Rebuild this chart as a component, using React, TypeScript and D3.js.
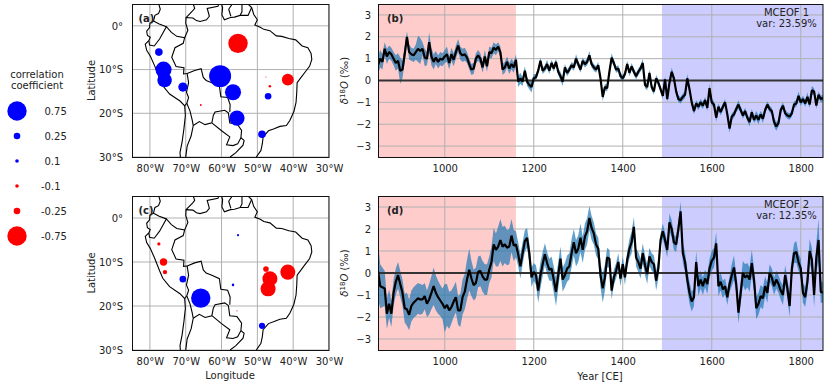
import React, { useEffect, useRef } from "react";
import * as d3 from "d3";

const FONT = "DejaVu Sans";

// values every 5 years, 850 to 1850 CE
const years = d3.range(850, 1855, 5);

const mceof1 = [
  0.7, 1.0, 0.85, 1.45, 1.1, 1.3, 1.2, 1.0, 0.8, 0.9,
  0.45, 0.5, 1.2, 2.0, 1.3, 1.2, 1.15, 1.3, 1.45, 1.35,
  1.45, 1.05, 1.0, 1.75, 1.1, 0.85, 1.05, 0.85, 1.0, 0.95,
  1.1, 1.2, 0.8, 1.2, 0.95, 1.3, 1.6, 1.25, 1.15, 1.2,
  1.05, 0.75, 0.5, 0.55, 1.0, 1.15, 1.0, 0.6, 1.1, 0.65,
  1.3, 1.25, 1.5, 1.4, 1.55, 1.3, 0.5, 0.6, 0.85, 0.55,
  0.75, 0.6, 0.95, -0.05, 0.1, -0.05, 0.45, -0.05, -0.2, -0.3,
  0.1, 0.15, 0.45, 0.9, 0.45, 0.55, 0.75, 0.45, 0.8, 0.55,
  0.85, 0.4, 0.2, -0.05, 0.6, 0.35, 0.5, 0.7, 0.6, 1.0,
  0.75, 0.5, 0.9, 0.75, 0.85, 1.15, 0.75, 0.6, 0.5, 0.7,
  0.1, -0.75, -0.3, -0.35, 0.4, 1.05, 0.8, 0.5, 0.55, 0.2,
  0.1, 0.3, 0.75, 0.35, 0.65, 0.4, 0.2, 0.4, 0.55, 0.8,
  -0.2, -0.3, 0.35, -0.3, -0.5, 0.1, -0.1, -0.4, -0.7, 0.05,
  -0.85, -0.1, 0.4, 0.1, -0.5, -0.85, -0.9, -0.75, -0.65, 0.1,
  -0.4, -1, -1.4, -1.05, -1.2, -1, -1.15, -0.9, -1.25, -0.35,
  -1, -1.1, -1.7, -1.2, -1.45, -1.2, -1, -1.55, -2.2, -1.65,
  -1.55, -1.3, -1.1, -1.35, -1.6, -1.4, -1.7, -1.9, -1.45, -1.8,
  -1.6, -1.8, -1.55, -1.75, -1.35, -1.1, -1.3, -1.4, -1.9, -2.1,
  -1.95, -1.35, -1.15, -1.5, -1.6, -1.65, -1.5, -1.1, -1.05, -0.7,
  -1, -0.85, -1.05, -0.75, -1.1, -0.45, -0.5, -1.15, -0.65, -0.85,
  -0.8,
];

const spread1 = [
  0.4, 0.4, 0.35, 0.3, 0.35, 0.3, 0.3, 0.3, 0.35, 0.35,
  0.6, 0.4, 0.35, 0.25, 0.35, 0.3, 0.3, 0.35, 0.6, 0.6,
  0.3, 0.4, 0.3, 0.45, 0.4, 0.35, 0.3, 0.3, 0.3, 0.3,
  0.3, 0.35, 0.3, 0.3, 0.3, 0.3, 0.3, 0.3, 0.3, 0.3,
  0.25, 0.25, 0.25, 0.25, 0.25, 0.25, 0.25, 0.25, 0.3, 0.25,
  0.25, 0.25, 0.25, 0.25, 0.2, 0.25, 0.25, 0.25, 0.25, 0.25,
  0.25, 0.25, 0.25, 0.25, 0.25, 0.2, 0.2, 0.2, 0.2, 0.25,
  0.2, 0.15, 0.15, 0.15, 0.15, 0.15, 0.2, 0.15, 0.15, 0.15,
  0.15, 0.15, 0.2, 0.2, 0.15, 0.15, 0.15, 0.15, 0.15, 0.2,
  0.15, 0.15, 0.15, 0.15, 0.15, 0.2, 0.15, 0.15, 0.15, 0.15,
  0.15, 0.2, 0.15, 0.15, 0.15, 0.2, 0.15, 0.15, 0.15, 0.15,
  0.15, 0.15, 0.15, 0.15, 0.15, 0.15, 0.15, 0.15, 0.15, 0.2,
  0.15, 0.15, 0.15, 0.15, 0.15, 0.15, 0.15, 0.15, 0.15, 0.15,
  0.15, 0.15, 0.2, 0.15, 0.15, 0.15, 0.15, 0.15, 0.15, 0.2,
  0.15, 0.15, 0.15, 0.15, 0.15, 0.15, 0.15, 0.15, 0.15, 0.2,
  0.15, 0.15, 0.2, 0.15, 0.15, 0.15, 0.15, 0.15, 0.2, 0.15,
  0.15, 0.15, 0.2, 0.15, 0.15, 0.15, 0.15, 0.2, 0.15, 0.15,
  0.2, 0.2, 0.15, 0.2, 0.15, 0.15, 0.15, 0.15, 0.2, 0.2,
  0.15, 0.15, 0.15, 0.15, 0.15, 0.15, 0.15, 0.15, 0.15, 0.2,
  0.15, 0.15, 0.15, 0.2, 0.15, 0.2, 0.15, 0.15, 0.15, 0.15,
  0.15,
];

const mceof2 = [
  0.1, -0.6, -0.65, -0.7, -1.85, -1.4, -1.85, -0.9, -0.4, -0.1,
  -0.5, -0.9, -1.6, -1.65, -1.9, -1.5, -1.35, -1.25, -1.15, -1.2,
  -1.2, -1.05, -1.4, -1.2, -0.9, -0.6, -0.9, -1.1, -1.25, -1.4,
  -1.6, -1.45, -1.7, -1.55, -1.3, -1.1, -1.7, -1.7, -1.1, -0.85,
  -0.3, 0.15, -0.25, -0.55, -0.45, 0.05, 0.1, -0.15, -0.3, -0.3,
  0.15, 0.5, 1.3, 1.05, 1.2, 1.5, 1.2, 1.3, 1.15, 1.2,
  1.7, 1.25, 1.3, 0.85, 0.3, 0.9, 1.45, 1.6, 0.9, -0.2,
  0.05, -0.1, -0.8, -0.1, 0.4, 0.85, 0.45, 0.15, 0.2, -0.3,
  -0.85, -0.1, 0.65, -0.3, -0.1, 0.2, 0.3, 0.9, 1.4, 0.9,
  1.1, 1.6, 1.05, 1.65, 1.9, 2.5, 2.05, 1.8, 1.3, 1.1,
  -0.1, -0.7, -0.2, 0.7, 0.65, -0.8, -0.2, 0.1, 0.5, -0.25,
  0.4, -0.2, 0.6, 1.1, 1.4, 2.1, 0.7, 0.5, 0.2, 0.9,
  0.35, -0.05, 0.75, 0.5, 0.4, -0.35, 0.2, 1.5, 1.9, 1.5,
  1.05, 2.3, 2, 1.4, 1.3, 2, 2.8, 0.9, 0.5, -0.3,
  -0.9, -1.3, -1.1, 0.5, -0.6, -0.3, -0.6, -0.25, -0.5, 0.2,
  0.55, 0.7, 1.35, -0.6, -0.4, -0.75, -0.6, -1.1, -0.5, -0.1,
  0.25, -0.5, -1.8, -0.9, 0, -0.2, -0.1, -0.3, 0.45, -0.3,
  -1.6, -1.4, -1.05, -1.15, -0.6, -0.9, 0, -0.2, -0.6, -0.3,
  -0.5, -0.8, -1, -0.1, -0.7, -1.5, 0.2, 0.9, 0.95, 0.5,
  0.2, -0.9, -1.1, -0.4, 1, 0.6, -1, 0.7, 1.5, -0.85,
  -0.9,
];

const spread2 = [
  1.3, 1, 0.9, 0.8, 0.7, 0.65, 0.6, 0.6, 0.6, 0.6,
  0.6, 0.6, 0.65, 0.75, 0.7, 0.7, 0.7, 0.7, 0.7, 0.7,
  0.65, 0.6, 0.6, 0.7, 0.75, 0.85, 0.8, 0.75, 0.7, 0.7,
  1.1, 0.95, 0.85, 0.75, 0.7, 0.7, 0.65, 0.75, 0.8, 0.8,
  0.9, 0.95, 0.8, 0.7, 0.7, 0.7, 0.7, 0.7, 0.7, 0.7,
  0.6, 0.7, 0.75, 0.75, 0.9, 0.95, 0.9, 0.85, 0.8, 0.8,
  0.75, 0.7, 0.6, 0.55, 0.55, 0.5, 0.5, 0.45, 0.45, 0.45,
  0.4, 0.45, 0.55, 0.6, 0.55, 0.5, 0.5, 0.5, 0.55, 0.6,
  0.65, 0.6, 0.55, 0.55, 0.55, 0.6, 0.6, 0.65, 0.6, 0.6,
  0.6, 0.65, 0.6, 0.6, 0.6, 0.55, 0.55, 0.5, 0.5, 0.5,
  0.55, 0.65, 0.6, 0.45, 0.4, 0.4, 0.35, 0.35, 0.4, 0.35,
  0.35, 0.35, 0.35, 0.45, 0.5, 0.45, 0.4, 0.45, 0.45, 0.45,
  0.45, 0.45, 0.4, 0.4, 0.4, 0.45, 0.45, 0.3, 0.35, 0.35,
  0.35, 0.4, 0.4, 0.35, 0.35, 0.35, 0.45, 0.45, 0.45, 0.45,
  0.5, 0.45, 0.4, 0.5, 0.45, 0.4, 0.4, 0.4, 0.45, 0.45,
  0.45, 0.45, 0.5, 0.45, 0.4, 0.4, 0.35, 0.35, 0.35, 0.5,
  0.55, 0.4, 0.5, 0.5, 0.55, 0.6, 0.55, 0.55, 0.6, 0.5,
  0.5, 0.5, 0.5, 0.5, 0.45, 0.45, 0.4, 0.4, 0.4, 0.4,
  0.4, 0.4, 0.45, 0.45, 0.45, 0.5, 0.45, 0.45, 0.5, 0.4,
  0.45, 0.45, 0.45, 0.45, 0.55, 0.55, 0.55, 0.65, 0.95, 0.5,
  0.45,
];

// [lon, lat, correlation]
const sitesA = [
  [-77.5, -6, 0.29], [-76.2, -10, 0.62], [-75.9, -12.4, 0.56], [-70.8, -14, 0.35],
  [-60.4, -11.5, 0.85], [-56.8, -15.2, 0.62], [-55.7, -21.1, 0.59], [-48.7, -24.8, 0.29],
  [-47, -16.1, 0.25], [-55.4, -4, -0.75], [-41.5, -12.3, -0.46], [-46.5, -13.8, -0.07],
  [-47.6, -11.7, -0.03], [-65.8, -18.1, -0.05],
];
const sitesC = [
  [-65.8, -18.2, 0.75], [-70.8, -13.9, 0.25], [-48.7, -24.5, 0.23], [-55.4, -3.9, 0.06],
  [-56.8, -15.2, 0.07], [-77.5, -5.9, -0.09], [-76.2, -10, -0.28], [-75.8, -12.3, -0.14],
  [-41.5, -12.3, -0.58], [-47.6, -11.6, -0.2], [-46.5, -13.8, -0.58], [-47, -16.1, -0.58],
  [-55.7, -21.1, -0.03],
];

const legendValues = [0.75, 0.25, 0.1, -0.1, -0.25, -0.75];

// coast and borders as lon/lat polylines
const coastPacific = [
  [-77.5, 4.9], [-77.1, 3.8], [-77.6, 2.8], [-78.6, 2.4], [-79, 1.1], [-80, 0.6], [-80.1, -0.4], [-80.9, -1.2],
  [-80.7, -2.2], [-79.9, -2.6], [-80.3, -3.4], [-81.3, -4.2], [-80.9, -5.6], [-79.9, -6.9], [-78.7, -9.1],
  [-77.3, -12], [-76.4, -13.7], [-74.5, -15.6], [-71.6, -17.2], [-70.3, -18.3], [-70.1, -20.5], [-70.5, -23.5],
  [-71, -26.5], [-71.6, -29], [-71.5, -30],
];
const coastAtlantic = [
  [-52.6, 5], [-51.6, 4.2], [-51, 2.6], [-50, 1.4], [-50.7, 0.2], [-49.2, -0.3], [-48.2, -0.8], [-46.5, -1.1],
  [-44.7, -2.3], [-43.2, -2.4], [-41.2, -2.9], [-39.3, -3.2], [-37.5, -4.6], [-35.9, -5], [-35, -6.3],
  [-34.8, -7.7], [-35.4, -9.2], [-36.6, -10.5], [-37.9, -11.9], [-38.9, -13], [-39, -15.2], [-39.2, -17.5],
  [-39.8, -19.6], [-40.9, -21.6], [-41.9, -22.8], [-43.7, -23], [-45.5, -23.6], [-46.9, -24], [-48.4, -25.4],
  [-48.6, -26.9], [-49, -28.5], [-50.3, -30],
];
const borders = [
  [[-79, 1.1], [-77.4, 0.4], [-75.4, -0.2]],
  [[-80.3, -3.4], [-80.1, -4.4], [-78.8, -4.6], [-77.3, -3], [-75.4, -0.2], [-74, -1.5], [-72.5, -2.4], [-70.3, -2.7],
    [-70.7, -4], [-73, -5], [-73.9, -7.2], [-72.7, -9.3], [-70.5, -9.6], [-70.6, -11], [-69.6, -10.9]],
  [[-70.3, -2.7], [-69.4, -1], [-70, 0.6], [-69.9, 1.9], [-68, 1.8], [-67, 1.2], [-66, 1], [-64.2, 1.4], [-63.4, 2.2], [-64, 4], [-61, 4.5], [-60.7, 5]],
  [[-69.9, 1.9], [-68.1, 3.4], [-67.5, 4], [-67.9, 5]],
  [[-60, 5], [-59.7, 4.2], [-59.9, 2.5], [-59.2, 1.4], [-57.5, 1.9], [-56.4, 2], [-54.8, 2.4], [-52.6, 2.4], [-51.6, 4.2]],
  [[-57, 5], [-58, 3.8], [-57.4, 2.2]],
  [[-54.3, 5], [-54.3, 3.2], [-54.8, 2.4]],
  [[-69.6, -10.9], [-69.2, -13], [-69.8, -15.2], [-69.2, -16.4], [-69.7, -17.7], [-68.8, -19.5], [-68.2, -21.5], [-67.9, -22.8],
    [-68.5, -25.2], [-69.6, -27.5], [-70, -30]],
  [[-70.3, -18.3], [-69.7, -17.7]],
  [[-69.6, -10.9], [-67.5, -10.2], [-65.7, -9.8], [-65.1, -11.8], [-64.3, -12.5], [-62.7, -13], [-60.6, -13.8],
    [-60.2, -16.2], [-58.3, -16.4], [-57.6, -18], [-57.7, -19.7]],
  [[-67.9, -22.8], [-66.2, -21.9], [-64.6, -22.6], [-62.7, -22.2], [-62.3, -20.5], [-61.8, -19.7], [-59.1, -19.3], [-58.1, -19.9], [-57.7, -22.2],
    [-55.7, -22.4], [-54.4, -23.9], [-54.6, -25.6], [-55.5, -27], [-56.8, -27.4], [-58.6, -27.2], [-57.7, -25.4], [-60, -24], [-62.7, -22.2]],
  [[-54.6, -25.6], [-53.7, -26.2], [-54, -27.3], [-56, -29], [-57.6, -30]],
];

const lonTicks = [-80, -70, -60, -50, -40, -30];
const latTicks = [0, -10, -20, -30];
const yearTicks = [1000, 1200, 1400, 1600, 1800];
const deltaTicks = [-3, -2, -1, 0, 1, 2, 3];

// legend dots: 0.1 -> 1.8px, 0.25 -> 3.3px, 0.75 -> 9.7px
const radius = d3.scaleLinear().domain([0, 0.1, 0.25, 0.75]).range([0, 1.8, 3.3, 9.7]).clamp(false);
const siteColor = (v: number) => (v > 0 ? "#0000ff" : "#ff0000");

const styleAxis = (g: any) => {
  g.select(".domain").remove();
  g.selectAll("line").remove();
  g.selectAll("text").attr("font-family", FONT).attr("font-size", 10).attr("fill", "#222");
};

const addFrame = (g: any, x: number, y: number, w: number, h: number) => {
  g.append("rect")
    .attr("x", x).attr("y", y).attr("width", w).attr("height", h)
    .attr("fill", "none").attr("stroke", "#111").attr("stroke-width", 1);
};

const App = () => {
  const ref = useRef<SVGSVGElement>(null);

  useEffect(() => {
    const svg = d3.select(ref.current);
    svg.selectAll("*").remove();

    const drawMap = (top: number, bottom: number, sites: number[][], tag: string, clipId: string) => {
      const x = d3.scaleLinear().domain([-85, -30]).range([132, 329]);
      const y = d3.scaleLinear().domain([5, -30]).range([top, bottom]);
      const g = svg.append("g");
      g.append("clipPath").attr("id", clipId).append("rect")
        .attr("x", 132).attr("y", top).attr("width", 197).attr("height", bottom - top);

      const body = g.append("g").attr("clip-path", `url(#${clipId})`);
      body.selectAll(".gx").data(lonTicks).join("line")
        .attr("x1", (d) => x(d)).attr("x2", (d) => x(d)).attr("y1", top).attr("y2", bottom)
        .attr("stroke", "#b0b0b0").attr("stroke-width", 1);
      body.selectAll(".gy").data(latTicks).join("line")
        .attr("x1", 132).attr("x2", 329).attr("y1", (d) => y(d)).attr("y2", (d) => y(d))
        .attr("stroke", "#b0b0b0").attr("stroke-width", 1);

      const line = d3.line().x((d) => x(d[0])).y((d) => y(d[1]));
      [coastPacific, coastAtlantic, ...borders].forEach((part) => {
        body.append("path").attr("d", line(part as any))
          .attr("fill", "none").attr("stroke", "#000").attr("stroke-width", 1.1);
      });

      body.selectAll("circle").data(sites).join("circle")
        .attr("cx", (d) => x(d[0])).attr("cy", (d) => y(d[1]))
        .attr("r", (d) => radius(Math.abs(d[2])))
        .attr("fill", (d) => siteColor(d[2]));

      g.append("g").attr("transform", `translate(0,${bottom})`)
        .call(d3.axisBottom(x).tickValues(lonTicks).tickSize(0).tickPadding(8).tickFormat((d: any) => `${-d}°W`))
        .call(styleAxis);
      g.append("g").attr("transform", "translate(132,0)")
        .call(d3.axisLeft(y).tickValues(latTicks).tickSize(0).tickPadding(9).tickFormat((d: any) => (d === 0 ? "0°" : `${-d}°S`)))
        .call(styleAxis);

      addFrame(g, 132.5, top + 0.5, 196.5, bottom - top);
      g.append("text").text(tag).attr("x", 138.5).attr("y", top + 17.5)
        .attr("font-family", FONT).attr("font-size", 10).attr("font-weight", "bold").attr("fill", "#222");
      g.append("text").text("Latitude").attr("text-anchor", "middle")
        .attr("transform", `translate(95,${(top + bottom) / 2}) rotate(-90)`)
        .attr("font-family", FONT).attr("font-size", 10).attr("fill", "#222");
    };

    const drawSeries = (top: number, bottom: number, values: number[], spread: number[], tag: string, title: string[], clipId: string) => {
      const x = d3.scaleLinear().domain([850, 1850]).range([378, 823]);
      const y = d3.scaleLinear().domain([-3.5, 3.5]).range([bottom, top]);
      const g = svg.append("g");
      g.append("clipPath").attr("id", clipId).append("rect")
        .attr("x", 378).attr("y", top).attr("width", 445).attr("height", bottom - top);

      const body = g.append("g").attr("clip-path", `url(#${clipId})`);
      body.append("rect").attr("x", x(850)).attr("y", top).attr("width", x(1160) - x(850)).attr("height", bottom - top).attr("fill", "#ffcccc");
      body.append("rect").attr("x", x(1488)).attr("y", top).attr("width", x(1850) - x(1488)).attr("height", bottom - top).attr("fill", "#ccccff");

      body.selectAll(".gx").data(yearTicks).join("line")
        .attr("x1", (d) => x(d)).attr("x2", (d) => x(d)).attr("y1", top).attr("y2", bottom)
        .attr("stroke", "#b0b0b0").attr("stroke-width", 1);
      body.selectAll(".gy").data(deltaTicks).join("line")
        .attr("x1", 378).attr("x2", 823).attr("y1", (d) => y(d)).attr("y2", (d) => y(d))
        .attr("stroke", "#b0b0b0").attr("stroke-width", 1);

      const area = d3.area<number>()
        .x((_, i) => x(years[i]))
        .y0((d, i) => y(d - spread[i]))
        .y1((d, i) => y(d + spread[i]));
      body.append("path").attr("d", area(values)).attr("fill", "#1f77b4").attr("opacity", 0.7);

      body.append("line").attr("x1", 378).attr("x2", 823).attr("y1", y(0)).attr("y2", y(0))
        .attr("stroke", "#333").attr("stroke-width", 2);

      const line = d3.line<number>().x((_, i) => x(years[i])).y((d) => y(d));
      body.append("path").attr("d", line(values)).attr("fill", "none").attr("stroke", "#000")
        .attr("stroke-width", 2.2).attr("stroke-linejoin", "bevel");

      g.append("g").attr("transform", `translate(0,${bottom})`)
        .call(d3.axisBottom(x).tickValues(yearTicks).tickSize(0).tickPadding(8).tickFormat(d3.format("d") as any))
        .call(styleAxis);
      g.append("g").attr("transform", "translate(378,0)")
        .call(d3.axisLeft(y).tickValues(deltaTicks).tickSize(0).tickPadding(7).tickFormat((d: any) => (d < 0 ? `−${-d}` : `${d}`)))
        .call(styleAxis);

      addFrame(g, 378.5, top + 0.5, 444.5, bottom - top);
      g.append("text").text(tag).attr("x", 387).attr("y", top + 17.5)
        .attr("font-family", FONT).attr("font-size", 10).attr("font-weight", "bold").attr("fill", "#222");
      title.forEach((t, i) => {
        g.append("text").text(t).attr("x", 786.5).attr("y", top + 11.5 + i * 11).attr("text-anchor", "middle")
          .attr("font-family", FONT).attr("font-size", 10).attr("fill", "#222");
      });

      const label = g.append("text").attr("text-anchor", "middle")
        .attr("transform", `translate(348,${(top + bottom) / 2}) rotate(-90)`)
        .attr("font-family", FONT).attr("font-size", 10).attr("fill", "#222");
      label.append("tspan").text("δ").attr("font-style", "italic");
      label.append("tspan").text("18").attr("font-size", 7).attr("dy", -3.5);
      label.append("tspan").text("O").attr("font-style", "italic").attr("dy", 3.5);
      label.append("tspan").text(" (‰)");
    };

    drawMap(4, 157, sitesA, "(a)", "clip-a");
    drawMap(196, 350, sitesC, "(c)", "clip-c");
    drawSeries(4, 157, mceof1, spread1, "(b)", ["MCEOF 1", "var: 23.59%"], "clip-b");
    drawSeries(196, 350, mceof2, spread2, "(d)", ["MCEOF 2", "var: 12.35%"], "clip-d");

    const text = (t: string, x: number, y: number, anchor = "start") =>
      svg.append("text").text(t).attr("x", x).attr("y", y).attr("text-anchor", anchor)
        .attr("font-family", FONT).attr("font-size", 10).attr("fill", "#222");

    text("Longitude", 230, 379, "middle");
    text("Year [CE]", 600, 380, "middle");
    text("correlation", 37, 78, "middle");
    text("coefficient", 37, 89, "middle");

    const legendY = d3.scalePoint<number>().domain(legendValues).range([111, 236]);
    const legend = svg.append("g");
    legend.selectAll("circle").data(legendValues).join("circle")
      .attr("cx", 17).attr("cy", (d) => legendY(d) as number)
      .attr("r", (d) => radius(Math.abs(d)))
      .attr("fill", (d) => siteColor(d));
    legendValues.forEach((v) => {
      text(String(v), v > 0 ? 44.5 : 41, (legendY(v) as number) + 3.5);
    });
  }, []);

  return (
    <svg
      ref={ref}
      width={831}
      height={387}
      style={{ position: "absolute", left: 0, top: 0, background: "#fff" }}
    />
  );
};

export default App;
